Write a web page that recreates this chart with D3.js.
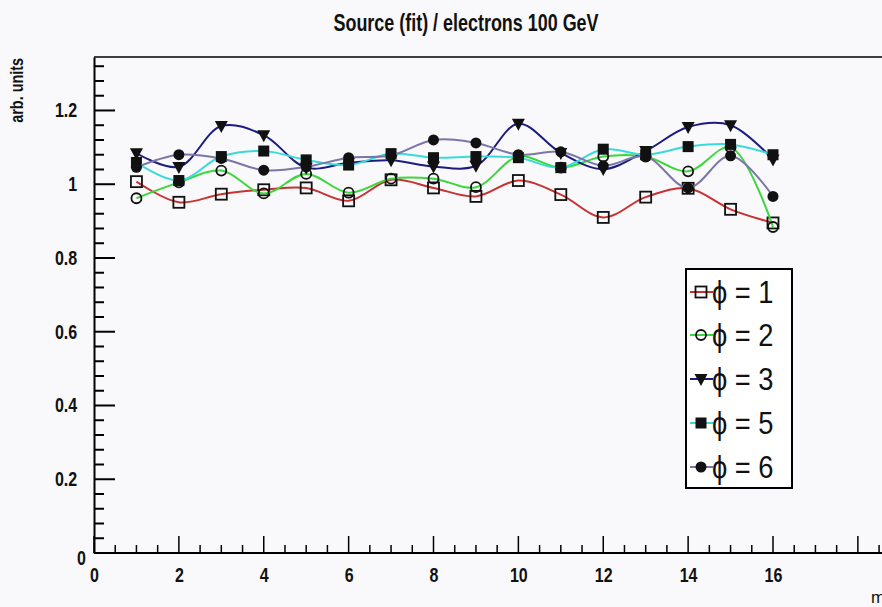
<!DOCTYPE html>
<html><head><meta charset="utf-8">
<script src="https://cdn.jsdelivr.net/npm/d3@7"></script>
<style>body{margin:0;background:#f9f8fa;} svg{display:block;}</style>
</head><body>
<script>
const xs = [1,2,3,4,5,6,7,8,9,10,11,12,13,14,15,16];
const phi1 = [1.007,0.951,0.973,0.985,0.990,0.955,1.012,0.990,0.967,1.010,0.972,0.910,0.965,0.989,0.932,0.895];
const phi2 = [0.962,1.005,1.037,0.975,1.028,0.977,1.015,1.015,0.992,1.075,1.045,1.075,1.075,1.035,1.100,0.884];
const phi3 = [1.084,1.047,1.158,1.133,1.045,1.058,1.065,1.048,1.050,1.164,1.085,1.041,1.090,1.155,1.160,1.067];
const phi5 = [1.059,1.010,1.075,1.090,1.066,1.052,1.083,1.072,1.075,1.072,1.045,1.095,1.080,1.102,1.108,1.080];
const phi6 = [1.046,1.080,1.070,1.038,1.047,1.072,1.078,1.120,1.112,1.080,1.088,1.050,1.075,0.990,1.077,0.967];
const seriesNames = ["ϕ = 1","ϕ = 2","ϕ = 3","ϕ = 5","ϕ = 6"];
const seriesColors = ["#c83232","#3ad83a","#1c1c80","#3adada","#7a76a8"];
const seriesMarkers = ["openSquare","openCircle","triDown","square","circle"];
const yTicks = [0,0.2,0.4,0.6,0.8,1,1.2];
const xTicks = [0,2,4,6,8,10,12,14,16];
const titleText = "Source (fit) / electrons 100 GeV";
const yLabel = "arb. units";
const xLabel = "m";

const W = 882, H = 607;
const FONT = "Liberation Sans, Arial, sans-serif";
const svg = d3.select("body").append("svg").attr("width", W).attr("height", H);
svg.append("rect").attr("width", W).attr("height", H).attr("fill", "#f9f8fa");

const x = d3.scaleLinear().domain([0, 16]).range([94, 773]);
const y = d3.scaleLinear().domain([0, 1.345]).range([553, 57]);
const xMax = x.invert(W);

// title
svg.append("text").attr("transform", "translate(466,31) scale(0.78,1)").attr("text-anchor", "middle")
  .attr("font-family", FONT).attr("font-weight", "bold")
  .attr("font-size", 23).attr("fill", "#111").text(titleText);

// frame top
svg.append("line").attr("x1", 94).attr("x2", W).attr("y1", 57).attr("y2", 57)
  .attr("stroke", "#000").attr("stroke-width", 1.5);

// y axis
const yAxis = d3.axisLeft(y).tickValues(yTicks).tickSize(0).tickPadding(21)
  .tickFormat(d => d === 0 ? "0" : d3.format("~g")(d));
const gy = svg.append("g").attr("transform", "translate(94,0)").call(yAxis);
gy.select(".domain").attr("stroke", "#000").attr("stroke-width", 2);
gy.selectAll("text").attr("font-family", FONT)
  .attr("font-weight", "bold").attr("font-size", 20).attr("fill", "#111")
  .attr("transform", "scale(0.8,1)");
gy.selectAll(".tick").filter(d => d === 0).select("text").attr("dy", "0.55em").attr("x", -10);
const yMinor = d3.range(0, 1.345, 0.04);
svg.append("g").selectAll("line").data(yMinor).join("line")
  .attr("x1", 94).attr("x2", d => (Math.abs(d*5 - Math.round(d*5)) < 1e-6) ? 115 : 104)
  .attr("y1", d => y(d)).attr("y2", d => y(d)).attr("stroke", "#000").attr("stroke-width", 2);

// x axis
const xAxis = d3.axisBottom(x).tickValues(xTicks).tickSize(0).tickPadding(15).tickFormat(d3.format("d"));
const gx = svg.append("g").attr("transform", "translate(0,553)").call(xAxis);
gx.select(".domain").attr("stroke", "#000").attr("stroke-width", 2).attr("d", `M94,0H${W}`);
gx.selectAll("text").attr("font-family", FONT)
  .attr("font-weight", "bold").attr("font-size", 20).attr("fill", "#111")
  .attr("transform", "scale(0.8,1)");
const xMinor = d3.range(0, xMax, 0.5);
svg.append("g").selectAll("line").data(xMinor).join("line")
  .attr("x1", d => x(d)).attr("x2", d => x(d))
  .attr("y1", 553).attr("y2", d => (Math.abs(d/2 - Math.round(d/2)) < 1e-6) ? 536 : 545)
  .attr("stroke", "#000").attr("stroke-width", 1.5);

// axis titles
svg.append("text").attr("transform", "translate(23,58) rotate(-90) scale(0.8,1)").attr("text-anchor", "end")
  .attr("font-family", FONT).attr("font-weight", "bold")
  .attr("font-size", 18).attr("fill", "#111").text(yLabel);
svg.append("text").attr("x", 871).attr("y", 603)
  .attr("font-family", FONT).attr("font-size", 17).attr("fill", "#111").text(xLabel);

function drawMarker(g, type, cx, cy) {
  const s = 5.5;
  if (type === "openSquare") g.append("rect").attr("x", cx-s).attr("y", cy-s).attr("width", 2*s).attr("height", 2*s)
    .attr("fill", "none").attr("stroke", "#111").attr("stroke-width", 1.8);
  else if (type === "openCircle") g.append("circle").attr("cx", cx).attr("cy", cy).attr("r", 5)
    .attr("fill", "none").attr("stroke", "#111").attr("stroke-width", 1.8);
  else if (type === "triDown") g.append("path").attr("d", `M${cx-6.5},${cy-5}L${cx+6.5},${cy-5}L${cx},${cy+7}Z`).attr("fill", "#111");
  else if (type === "square") g.append("rect").attr("x", cx-s).attr("y", cy-s).attr("width", 2*s).attr("height", 2*s).attr("fill", "#111");
  else if (type === "circle") g.append("circle").attr("cx", cx).attr("cy", cy).attr("r", 5.5).attr("fill", "#111");
}

const allSeries = [phi1, phi2, phi3, phi5, phi6];
const line = d3.line().x((d,i) => x(xs[i])).y(d => y(d)).curve(d3.curveCatmullRom.alpha(0.5));
allSeries.forEach((vals, k) => {
  const g = svg.append("g");
  g.append("path").attr("d", line(vals)).attr("fill", "none")
    .attr("stroke", seriesColors[k]).attr("stroke-width", 2);
  vals.forEach((v, i) => drawMarker(g, seriesMarkers[k], x(xs[i]), y(v)));
});

// legend
const lg = svg.append("g");
lg.append("rect").attr("x", 686).attr("y", 269).attr("width", 106).attr("height", 219)
  .attr("fill", "#fff").attr("stroke", "#000").attr("stroke-width", 2);
const ly = [292, 335, 379, 423, 467];
seriesNames.forEach((nm, k) => {
  lg.append("line").attr("x1", 690).attr("x2", 713).attr("y1", ly[k]).attr("y2", ly[k])
    .attr("stroke", seriesColors[k]).attr("stroke-width", 2);
  drawMarker(lg, seriesMarkers[k], 701, ly[k]);
  lg.append("text").attr("transform", `translate(712,${ly[k] + 11}) scale(0.88,1)`)
    .attr("font-family", FONT).attr("font-size", 31).attr("fill", "#111").text(nm);
});
</script>
</body></html>
